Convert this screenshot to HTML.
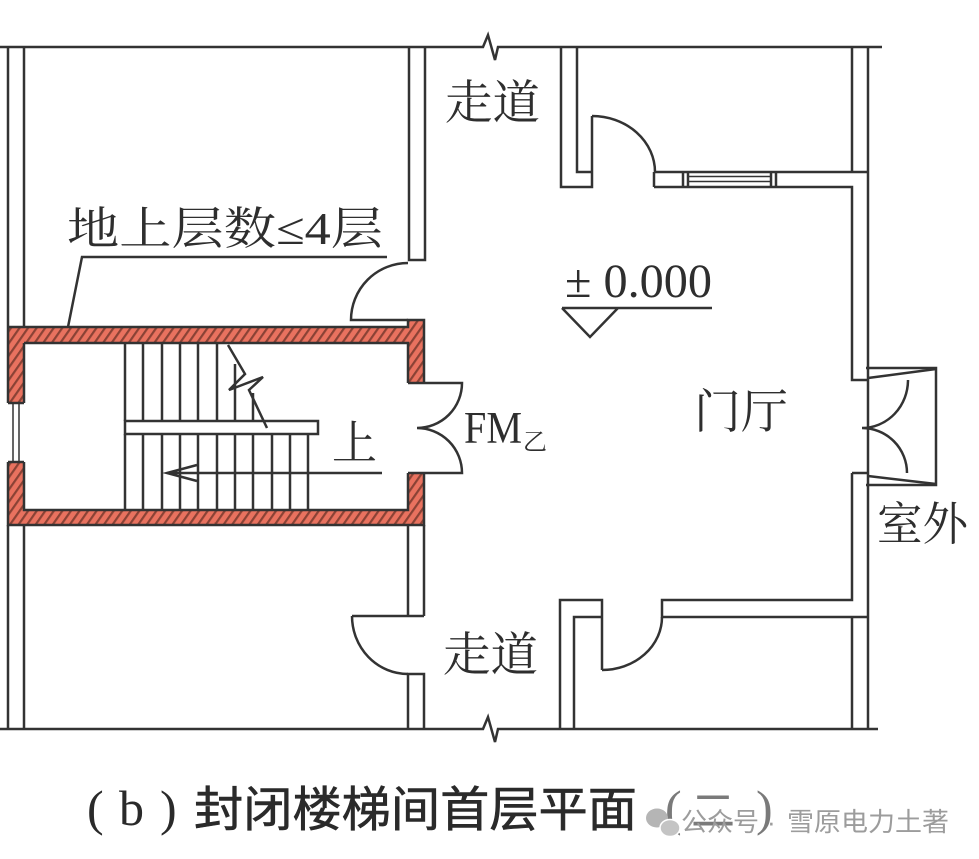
<!DOCTYPE html>
<html><head><meta charset="utf-8">
<style>
html,body{margin:0;padding:0;background:#fff;}
svg{display:block;}
</style></head>
<body>
<svg width="979" height="859" viewBox="0 0 979 859" xmlns="http://www.w3.org/2000/svg">
<defs>
<pattern id="h" width="7" height="20" patternUnits="userSpaceOnUse" patternTransform="rotate(35)">
<rect width="7" height="20" fill="#e9725f"/>
<rect width="2.2" height="20" fill="#8a4235"/>
</pattern>
</defs>
<rect width="979" height="859" fill="#fff"/>

<!-- hatched stair enclosure -->
<path d="M8 327 H408 V320 H424 V525 H8 Z M24 343 V510 H408 V343 Z" fill="url(#h)" fill-rule="evenodd"/>
<rect x="406" y="384" width="20" height="88" fill="#fff"/>
<rect x="6" y="404" width="20" height="57" fill="#fff"/>

<g stroke="#333" stroke-width="2.5" fill="none" stroke-linejoin="miter">
<!-- top & bottom lines with break symbols -->
<path d="M0 47 H483 L488 35 L495 60 L498 47 H882"/>
<path d="M0 729 H483 L488 717 L495 742 L498 729 H878"/>
<!-- left wall -->
<path d="M8 47 V327 M24 47 V327 M8 525 V729 M24 525 V729"/>
<!-- hatch outlines -->
<path d="M8 327 H408 V320 H424 V383 M424 473 V525 H8 V462 M8 403 V327 M24 343 H408 V383 M408 473 V510 H24 V462 M24 403 V343 M8 403 H24 M8 462 H24"/>
<path d="M13 403 V462 M19 403 V462" stroke-width="1.5"/>
<!-- corridor left wall upper + door -->
<path d="M409 47 V260 H425 V47"/>
<path d="M408 263 A57 57 0 0 0 351 320 H408"/>
<!-- corridor left wall lower + door -->
<path d="M408 525 V616 M424 525 V616 M352 616 H424"/>
<path d="M352 616 A56 58 0 0 0 408 674"/>
<path d="M408 729 V674 H424 V729"/>
<!-- FM door -->
<path d="M408 383 H462 A45 45 0 0 1 417 428 A45 45 0 0 1 462 473 H408"/>

<!-- stairs -->
<path d="M125 343 V421 M143 343 V421 M162 343 V421 M180 343 V421 M198 343 V421 M217 343 V421 M235 364 V421 M253 393 V421"/>
<rect x="125" y="421" width="193" height="13"/>
<path d="M125 434 V510 M143 434 V510 M162 434 V510 M180 434 V510 M198 434 V510 M217 434 V510 M235 434 V510 M253 434 V510 M272 434 V510 M290 434 V510 M308 434 V510"/>
<path d="M228 345 L245 374 L229 390 L263 377 L249 390 L267 428"/>
<path d="M382 473 H167 M197 465 L167 473 L197 481"/>

<!-- hall upper wall -->
<path d="M561 47 V187 H592 V116 M577 47 V172 H592"/>
<path d="M592 116 A63 56 0 0 1 655 172"/>
<path d="M654 172 V187 M654 172 H868 M654 187 H852 V380 H868 M852 47 V172 M868 47 V729"/>
<path d="M683 172 V187 M688 172 V187 M771 172 V187 M776 172 V187"/>
<path d="M688 176.5 H771 M688 181.5 H771" stroke-width="1.6"/>
<path d="M852 473 H868 M852 473 V600 H662 V617 H868 M852 617 V729"/>
<!-- hall lower corridor wall -->
<path d="M560 729 V600 H602 V670 M574 729 V617 H602"/>
<path d="M602 670 A60 53 0 0 0 662 617"/>
<!-- entrance door -->
<path d="M866 368 H936 V485 H866"/>
<path d="M868 378 L936 369 M868 476 L936 484"/>
<path d="M908 380 A46 48 0 0 1 862 428 A45 45 0 0 1 907 473"/>

<!-- level marker -->
<path d="M562 308 H712 M562 308 L590 337 L618 308"/>
<!-- leader -->
<path d="M387 257 H82 L68 327"/>
</g>

<!-- labels -->
<g fill="#2e2e2e" font-family="'Liberation Serif','Noto Serif CJK SC',serif">
<text x="445" y="119" font-size="47" textLength="95" lengthAdjust="spacingAndGlyphs">走道</text>
<text x="443" y="671" font-size="47" textLength="95" lengthAdjust="spacingAndGlyphs">走道</text>
<text x="694" y="428" font-size="47" textLength="94" lengthAdjust="spacingAndGlyphs">门厅</text>
<text x="877" y="540" font-size="46" textLength="91" lengthAdjust="spacingAndGlyphs">室外</text>
<text x="67" y="244" font-size="45" textLength="316" lengthAdjust="spacingAndGlyphs">地上层数≤4层</text>
<text x="332" y="459" font-size="46" textLength="45" lengthAdjust="spacingAndGlyphs">上</text>
<text x="565" y="297" font-size="48" textLength="147" lengthAdjust="spacingAndGlyphs">± 0.000</text>
<text x="464" y="443" font-size="45" textLength="58" lengthAdjust="spacingAndGlyphs">FM</text>
<text x="523" y="450" font-size="24">乙</text>
</g>

<!-- caption -->
<g fill="#2a2a2a">
<text x="87" y="825" font-family="'Liberation Serif',serif" font-size="50">(</text>
<text x="119" y="825" font-family="'Liberation Serif',serif" font-size="50">b</text>
<text x="160" y="825" font-family="'Liberation Serif',serif" font-size="50">)</text>
<text x="194" y="826" font-family="'Liberation Sans','Noto Sans CJK SC',sans-serif" font-size="48" textLength="443" lengthAdjust="spacingAndGlyphs" stroke="#2a2a2a" stroke-width="0.6">封闭楼梯间首层平面</text>
</g>
<g fill="#7a7a7a">
<text x="665" y="825" font-family="'Liberation Serif',serif" font-size="50">(</text>
<text x="691" y="826" font-family="'Liberation Sans','Noto Sans CJK SC',sans-serif" font-size="44">二</text>
<text x="756" y="825" font-family="'Liberation Serif',serif" font-size="50">)</text>
</g>

<!-- watermark -->
<g fill="#b5b5b5">
<ellipse cx="657" cy="818" rx="11" ry="9.5"/>
<ellipse cx="670" cy="828" rx="10" ry="8.5" fill="#c4c4c4" stroke="#fff" stroke-width="1.5"/>
</g>
<g fill="#9c9c9c" font-family="'Liberation Sans','Noto Sans CJK SC',sans-serif" font-size="26">
<text x="681" y="831" textLength="78" lengthAdjust="spacingAndGlyphs">公众号</text>
<text x="767" y="831">·</text>
<text x="787" y="831" textLength="162" lengthAdjust="spacingAndGlyphs">雪原电力土著</text>
</g>
</svg>
</body></html>
